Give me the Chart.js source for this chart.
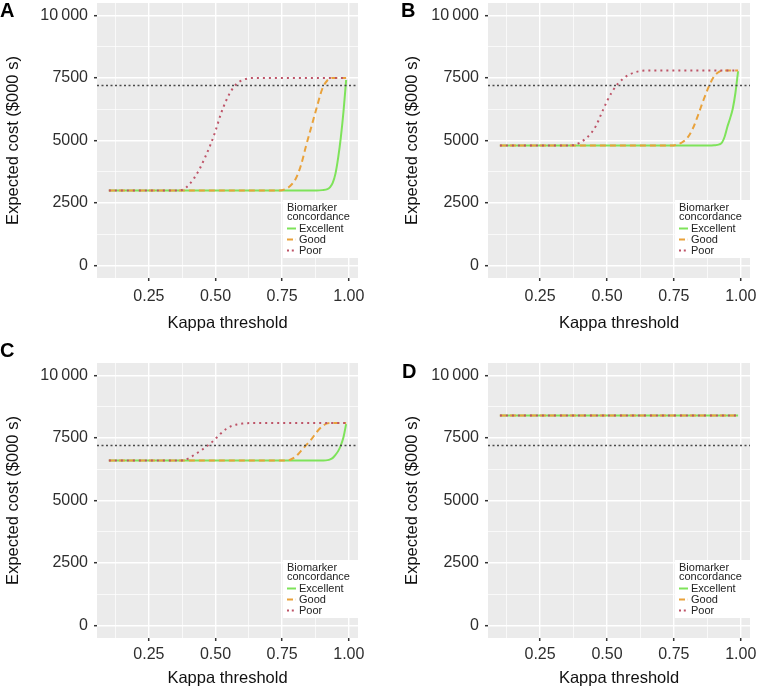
<!DOCTYPE html>
<html>
<head>
<meta charset="utf-8">
<script src="https://cdn.jsdelivr.net/npm/chart.js@4.4.1/dist/chart.umd.min.js"></script>
<style>
  html, body { margin: 0; padding: 0; background: #fff; }
  body { width: 758px; height: 687px; position: relative; overflow: hidden; font-family: "Liberation Sans", Arial, sans-serif; }
  .panel { position: absolute; }
  .panel canvas { display: block; }
  .lab { position: absolute; font: bold 20px/20px "Liberation Sans", Arial, sans-serif; color: #000; }
</style>
</head>
<body>
<div class="panel" style="left:0;top:0;"><canvas id="cA" width="380" height="340"></canvas></div>
<div class="panel" style="left:380px;top:0;"><canvas id="cB" width="378" height="340"></canvas></div>
<div class="panel" style="left:0;top:340px;"><canvas id="cC" width="380" height="347"></canvas></div>
<div class="panel" style="left:380px;top:340px;"><canvas id="cD" width="378" height="347"></canvas></div>
<div class="lab" style="left:0;top:0;">A</div>
<div class="lab" style="left:401px;top:0;">B</div>
<div class="lab" style="left:0;top:340px;">C</div>
<div class="lab" style="left:402px;top:361px;">D</div>
<script>
// ---------- data ----------
const seriesNames = ['Excellent', 'Good', 'Poor'];
const legendTitle = ['Biomarker', 'concordance'];
const xTitle = 'Kappa threshold';
const yTitle = 'Expected cost ($000 s)';

const xMajor = [0.25, 0.50, 0.75, 1.00];
const xLabels = ['0.25', '0.50', '0.75', '1.00'];
const xMinor = [0.125, 0.375, 0.625, 0.875];
const yMajor = [0, 2500, 5000, 7500, 10000];
const yLabels = ['0', '2500', '5000', '7500', '10\u2009000'];
const yMinor = [1250, 3750, 6250, 8750];
const xRange = [0.0555, 1.0345];
const yRange = [-500, 10500];

const thresholdCost = 7200;

const kappaPoor = [0.10, 0.30, 0.36, 0.38, 0.40, 0.42, 0.44, 0.46, 0.48, 0.50, 0.52, 0.54, 0.56, 0.58, 0.60, 0.62, 0.65, 0.80, 0.99];
const kappaGood = [0.10, 0.50, 0.74, 0.76, 0.78, 0.80, 0.82, 0.84, 0.86, 0.88, 0.90, 0.92, 0.94, 0.99];
const kappaExcellent = [0.10, 0.50, 0.88, 0.90, 0.92, 0.93, 0.94, 0.95, 0.96, 0.97, 0.98, 0.99];
const kappaFlat = [0.10, 0.99];

const poorA = [3000, 3000, 3000, 3045, 3225, 3495, 3855, 4305, 4800, 5385, 6060, 6600, 7005, 7275, 7410, 7478, 7500, 7500, 7500];
const goodA = [3000, 3000, 3000, 3045, 3180, 3450, 3990, 4800, 5565, 6330, 7050, 7410, 7500, 7500];
const excellentA = [3000, 3000, 3000, 3015, 3055, 3135, 3315, 3675, 4305, 5115, 6150, 7420];

const poorB = [4800, 4800, 4800, 4830, 4920, 5070, 5280, 5610, 6090, 6570, 6960, 7260, 7470, 7620, 7710, 7770, 7800, 7800, 7800];
const goodB = [4800, 4800, 4800, 4830, 4920, 5100, 5460, 6000, 6600, 7140, 7560, 7755, 7800, 7800];
const excellentB = [4800, 4800, 4800, 4809, 4845, 4920, 5160, 5550, 5880, 6270, 6900, 7770];

const poorC = [6600, 6600, 6600, 6615, 6690, 6825, 6960, 7110, 7275, 7470, 7680, 7860, 7980, 8040, 8078, 8093, 8100, 8100, 8100];
const goodC = [6600, 6600, 6600, 6600, 6630, 6750, 6975, 7215, 7455, 7740, 7965, 8085, 8100, 8100];
const excellentC = [6600, 6600, 6600, 6603, 6615, 6645, 6705, 6825, 6975, 7200, 7530, 8055];

const poorD = [8400, 8400];
const goodD = [8400, 8400];
const excellentD = [8400, 8400];

// ---------- styles ----------
const FONT = '"Liberation Sans", Arial, Helvetica, sans-serif';
Chart.defaults.font.family = FONT;
const seriesStyle = {
  Excellent: { color: '#7EE35A', dash: [], width: 2 },
  Good: { color: '#E9A23B', dash: [6, 4], width: 2 },
  Poor: { color: '#BE5468', dash: [2, 4], width: 2 }
};

const pts = (xs, ys) => xs.map((x, i) => ({ x: x, y: ys[i] }));

const bgPlugin = {
  id: 'ggbg',
  beforeDraw(chart) {
    const { ctx, chartArea: a } = chart;
    ctx.save();
    ctx.fillStyle = '#EBEBEB';
    ctx.fillRect(a.left, a.top, a.right - a.left, a.bottom - a.top);
    ctx.restore();
  }
};

const legendPlugin = {
  id: 'gglegend',
  afterDraw(chart) {
    const { ctx, chartArea: a } = chart;
    const b = a.bottom, r = a.right, l = r - 75;
    ctx.save();
    ctx.fillStyle = '#fff';
    ctx.fillRect(l, b - 78, r - l, 58);
    ctx.fillStyle = '#222';
    ctx.font = '11px ' + FONT;
    ctx.textBaseline = 'alphabetic';
    ctx.textAlign = 'left';
    ctx.fillText(legendTitle[0], l + 4, b - 67);
    ctx.fillText(legendTitle[1], l + 4, b - 58);
    const rows = [b - 46, b - 35, b - 24];
    seriesNames.forEach((name, i) => {
      const st = seriesStyle[name];
      ctx.strokeStyle = st.color;
      ctx.lineWidth = st.width;
      ctx.setLineDash(st.dash.length ? [st.dash[0], st.dash[1] * 0.7] : []);
      ctx.beginPath();
      ctx.moveTo(l + 4, rows[i] - 3.5);
      ctx.lineTo(l + 13, rows[i] - 3.5);
      ctx.stroke();
      ctx.setLineDash([]);
      ctx.fillStyle = '#222';
      ctx.fillText(name, l + 16, rows[i]);
    });
    ctx.restore();
  }
};

function lineDs(name, xs, ys) {
  const st = seriesStyle[name];
  return {
    label: name,
    data: pts(xs, ys),
    borderColor: st.color,
    borderWidth: st.width,
    borderDash: st.dash,
    borderCapStyle: 'butt',
    pointRadius: 0,
    fill: false,
    cubicInterpolationMode: 'monotone'
  };
}

function makeChart(id, p, poor, good, excellent, kp, kg, ke) {
  const datasets = [
    {
      label: 'threshold',
      data: pts(xRange, [thresholdCost, thresholdCost]),
      borderColor: '#4a4a4a',
      borderWidth: 1.5,
      borderDash: [2, 2.5],
      pointRadius: 0,
      fill: false
    },
    lineDs('Poor', kp, poor),
    lineDs('Good', kg, good),
    lineDs('Excellent', ke, excellent)
  ];
  return new Chart(document.getElementById(id), {
    type: 'line',
    data: { datasets },
    plugins: [bgPlugin, legendPlugin],
    options: {
      responsive: false,
      animation: false,
      events: [],
      layout: { padding: { left: 0, right: p.rp, top: p.tp, bottom: 0 } },
      plugins: { legend: { display: false }, tooltip: { enabled: false } },
      scales: {
        x: {
          type: 'linear',
          min: xRange[0], max: xRange[1],
          afterBuildTicks: s => { s.ticks = xMinor.concat(xMajor).sort((m, n) => m - n).map(v => ({ value: v })); },
          afterFit: s => { s.height = p.xh; s.paddingLeft = 0; s.paddingRight = 0; s.paddingTop = 0; s.paddingBottom = 0; },
          ticks: {
            autoSkip: false, maxRotation: 0, minRotation: 0, padding: p.xpad,
            color: '#2e2e2e', font: { size: 16 },
            callback: v => { const i = xMajor.indexOf(v); return i >= 0 ? xLabels[i] : ''; }
          },
          grid: {
            color: '#ffffff',
            lineWidth: c => (c.tick && xMajor.indexOf(c.tick.value) >= 0) ? 1.4 : 0.7,
            tickLength: 3,
            tickWidth: 1.5,
            tickColor: c => (c.tick && xMajor.indexOf(c.tick.value) >= 0) ? '#333' : 'rgba(0,0,0,0)'
          },
          border: { display: false },
          title: { display: true, text: xTitle, color: '#111', font: { size: 16.5 }, padding: { top: 0, bottom: p.xtp } }
        },
        y: {
          type: 'linear',
          min: yRange[0], max: yRange[1],
          afterBuildTicks: s => { s.ticks = yMinor.concat(yMajor).sort((m, n) => m - n).map(v => ({ value: v })); },
          afterFit: s => { s.width = p.yw; s.paddingLeft = 0; s.paddingRight = 0; s.paddingTop = 0; s.paddingBottom = 0; },
          ticks: {
            autoSkip: false, padding: 6,
            color: '#2e2e2e', font: { size: 16 },
            callback: v => { const i = yMajor.indexOf(v); return i >= 0 ? yLabels[i] : ''; }
          },
          grid: {
            color: '#ffffff',
            lineWidth: c => (c.tick && yMajor.indexOf(c.tick.value) >= 0) ? 1.4 : 0.7,
            tickLength: 3,
            tickWidth: 1.5,
            tickColor: c => (c.tick && yMajor.indexOf(c.tick.value) >= 0) ? '#333' : 'rgba(0,0,0,0)'
          },
          border: { display: false },
          title: { display: true, text: yTitle, color: '#111', font: { size: 16.5 }, padding: { top: p.ytp, bottom: 0 } }
        }
      }
    }
  });
}

makeChart('cA', { rp: 22, tp: 3, xh: 62, yw: 97, xpad: 5.5, xtp: 6.4, ytp: 3.2 }, poorA, goodA, excellentA, kappaPoor, kappaGood, kappaExcellent);
makeChart('cB', { rp: 8, tp: 3, xh: 62, yw: 108, xpad: 5.5, xtp: 6.4, ytp: 23 }, poorB, goodB, excellentB, kappaPoor, kappaGood, kappaExcellent);
makeChart('cC', { rp: 22, tp: 23, xh: 49, yw: 97, xpad: 3.5, xtp: -1.6, ytp: 3.2 }, poorC, goodC, excellentC, kappaPoor, kappaGood, kappaExcellent);
makeChart('cD', { rp: 8, tp: 23, xh: 49, yw: 108, xpad: 3.5, xtp: -1.6, ytp: 23 }, poorD, goodD, excellentD, kappaFlat, kappaFlat, kappaFlat);
</script>
</body>
</html>
